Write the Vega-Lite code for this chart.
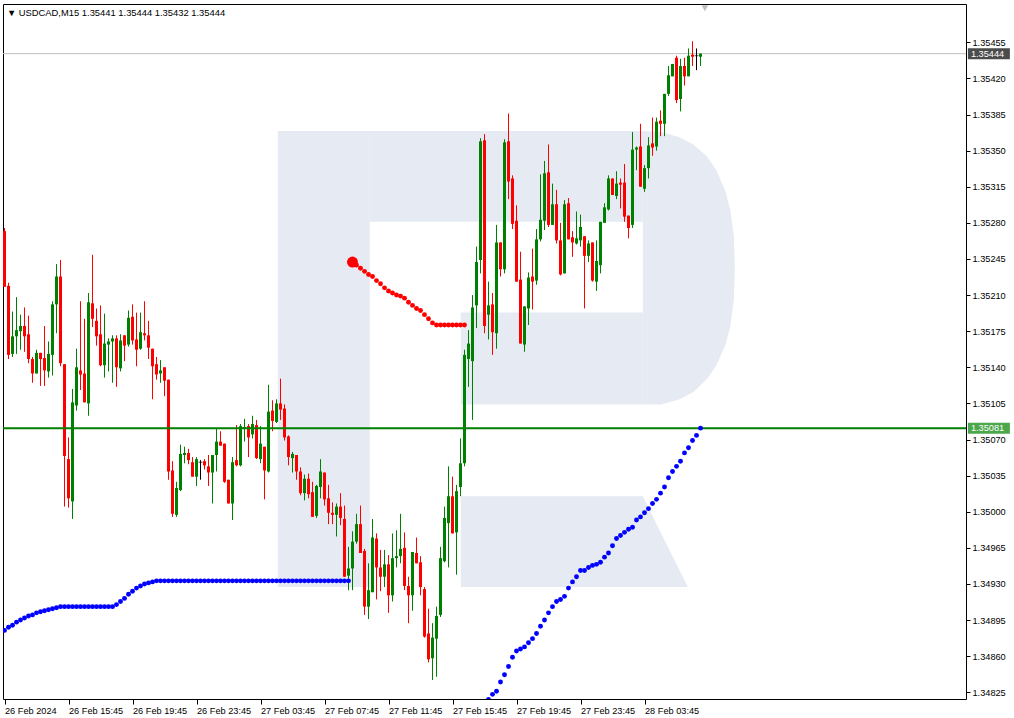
{
"$schema":"https://vega.github.io/schema/vega-lite/v6.json",
"autosize":{"type":"none"},
"width":963,"height":695,
"padding":{"left":3,"top":4,"right":48,"bottom":19},
"background":"#FFFFFF",
"config":{"view":{"stroke":"#000000","strokeWidth":1},"axis":{"labelFont":"Liberation Sans","labelFontSize":9.2,"labelColor":"#000000","tickColor":"#000000","domain":false,"grid":false}},
"datasets":{
"header":[{"text":"▼  USDCAD,M15  1.35441 1.35444 1.35432 1.35444"}],
"marker":[{"name":"shift"}],
"wm":[
{"part":"stem","i":68.325,"top":1.35369,"bot":1.34927},{"part":"stem","i":91.325,"top":1.35369,"bot":1.34927},
{"part":"topbar","i":91.325,"top":1.35369,"bot":1.35281},{"part":"topbar","i":159.575,"top":1.35369,"bot":1.35281},
{"part":"botbar","i":114.075,"top":1.35193,"bot":1.35104},{"part":"botbar","i":159.575,"top":1.35193,"bot":1.35104},
{"part":"bowl","i":159.575,"top":1.35369,"bot":1.35104},{"part":"bowl","i":164.175,"top":1.35368,"bot":1.35104},{"part":"bowl","i":168.775,"top":1.35363,"bot":1.35109},{"part":"bowl","i":172.225,"top":1.35356,"bot":1.35116},{"part":"bowl","i":175.675,"top":1.35344,"bot":1.35129},{"part":"bowl","i":177.975,"top":1.35331,"bot":1.35142},{"part":"bowl","i":180.275,"top":1.35310,"bot":1.35162},{"part":"bowl","i":181.425,"top":1.35293,"bot":1.35179},{"part":"bowl","i":182.35,"top":1.35267,"bot":1.35206},{"part":"bowl","i":182.575,"top":1.35236,"bot":1.35236},
{"part":"leg","i":114.075,"top":1.35015,"bot":1.34927},{"part":"leg","i":159.575,"top":1.35015,"bot":1.34927},{"part":"leg","i":170.825,"top":1.34927,"bot":1.34927}
],
"levels":[{"name":"bid","price":1.35444,"label":"1.35444"},{"name":"line","price":1.35081,"label":"1.35081"}],
"candles":[
{"i":0,"o":1.35272,"h":1.35275,"l":1.35218,"c":1.35218},
{"i":1,"o":1.35219,"h":1.35222,"l":1.35148,"c":1.35152},
{"i":2,"o":1.35153,"h":1.35194,"l":1.35150,"c":1.35170},
{"i":3,"o":1.35170,"h":1.35208,"l":1.35153,"c":1.35176},
{"i":4,"o":1.35175,"h":1.35191,"l":1.35157,"c":1.35180},
{"i":5,"o":1.35180,"h":1.35198,"l":1.35155,"c":1.35170},
{"i":6,"o":1.35172,"h":1.35190,"l":1.35144,"c":1.35148},
{"i":7,"o":1.35148,"h":1.35150,"l":1.35125,"c":1.35134},
{"i":8,"o":1.35134,"h":1.35157,"l":1.35134,"c":1.35154},
{"i":9,"o":1.35154,"h":1.35154,"l":1.35122,"c":1.35148},
{"i":10,"o":1.35149,"h":1.35180,"l":1.35122,"c":1.35137},
{"i":11,"o":1.35136,"h":1.35165,"l":1.35130,"c":1.35153},
{"i":12,"o":1.35152,"h":1.35204,"l":1.35132,"c":1.35201},
{"i":13,"o":1.35201,"h":1.35240,"l":1.35173,"c":1.35228},
{"i":14,"o":1.35228,"h":1.35244,"l":1.35141,"c":1.35144},
{"i":15,"o":1.35143,"h":1.35143,"l":1.35005,"c":1.35054},
{"i":16,"o":1.35051,"h":1.35072,"l":1.35004,"c":1.35013},
{"i":17,"o":1.35010,"h":1.35119,"l":1.34993,"c":1.35106},
{"i":18,"o":1.35103,"h":1.35158,"l":1.35098,"c":1.35140},
{"i":19,"o":1.35137,"h":1.35204,"l":1.35118,"c":1.35133},
{"i":20,"o":1.35134,"h":1.35187,"l":1.35106,"c":1.35106},
{"i":21,"o":1.35105,"h":1.35212,"l":1.35093,"c":1.35203},
{"i":22,"o":1.35202,"h":1.35249,"l":1.35179,"c":1.35187},
{"i":23,"o":1.35185,"h":1.35197,"l":1.35161,"c":1.35170},
{"i":24,"o":1.35172,"h":1.35200,"l":1.35141,"c":1.35142},
{"i":25,"o":1.35142,"h":1.35192,"l":1.35130,"c":1.35163},
{"i":26,"o":1.35162,"h":1.35168,"l":1.35136,"c":1.35165},
{"i":27,"o":1.35165,"h":1.35171,"l":1.35125,"c":1.35168},
{"i":28,"o":1.35168,"h":1.35171,"l":1.35121,"c":1.35140},
{"i":29,"o":1.35139,"h":1.35172,"l":1.35136,"c":1.35166},
{"i":30,"o":1.35171,"h":1.35171,"l":1.35146,"c":1.35161},
{"i":31,"o":1.35162,"h":1.35195,"l":1.35160,"c":1.35188},
{"i":32,"o":1.35189,"h":1.35201,"l":1.35162,"c":1.35166},
{"i":33,"o":1.35167,"h":1.35193,"l":1.35141,"c":1.35157},
{"i":34,"o":1.35158,"h":1.35193,"l":1.35157,"c":1.35174},
{"i":35,"o":1.35173,"h":1.35204,"l":1.35166,"c":1.35171},
{"i":36,"o":1.35171,"h":1.35185,"l":1.35148,"c":1.35159},
{"i":37,"o":1.35158,"h":1.35158,"l":1.35109,"c":1.35141},
{"i":38,"o":1.35143,"h":1.35150,"l":1.35128,"c":1.35133},
{"i":39,"o":1.35134,"h":1.35147,"l":1.35125,"c":1.35137},
{"i":40,"o":1.35140,"h":1.35140,"l":1.35112,"c":1.35127},
{"i":41,"o":1.35128,"h":1.35128,"l":1.35031,"c":1.35039},
{"i":42,"o":1.35040,"h":1.35049,"l":1.34995,"c":1.34998},
{"i":43,"o":1.34997,"h":1.35029,"l":1.34995,"c":1.35023},
{"i":44,"o":1.35021,"h":1.35065,"l":1.35020,"c":1.35056},
{"i":45,"o":1.35055,"h":1.35063,"l":1.35047,"c":1.35057},
{"i":46,"o":1.35057,"h":1.35061,"l":1.35046,"c":1.35050},
{"i":47,"o":1.35048,"h":1.35053,"l":1.35034,"c":1.35034},
{"i":48,"o":1.35034,"h":1.35053,"l":1.35025,"c":1.35051},
{"i":49,"o":1.35048,"h":1.35050,"l":1.35031,"c":1.35048},
{"i":50,"o":1.35049,"h":1.35051,"l":1.35041,"c":1.35045},
{"i":51,"o":1.35044,"h":1.35055,"l":1.35025,"c":1.35038},
{"i":52,"o":1.35038,"h":1.35055,"l":1.35008,"c":1.35055},
{"i":53,"o":1.35055,"h":1.35081,"l":1.35039,"c":1.35068},
{"i":54,"o":1.35068,"h":1.35078,"l":1.35064,"c":1.35064},
{"i":55,"o":1.35066,"h":1.35066,"l":1.35028,"c":1.35029},
{"i":56,"o":1.35031,"h":1.35031,"l":1.35008,"c":1.35008},
{"i":57,"o":1.35008,"h":1.35053,"l":1.34992,"c":1.35048},
{"i":58,"o":1.35050,"h":1.35084,"l":1.35044,"c":1.35045},
{"i":59,"o":1.35045,"h":1.35085,"l":1.35044,"c":1.35083},
{"i":60,"o":1.35081,"h":1.35090,"l":1.35068,"c":1.35082},
{"i":61,"o":1.35083,"h":1.35085,"l":1.35053,"c":1.35072},
{"i":62,"o":1.35075,"h":1.35093,"l":1.35071,"c":1.35085},
{"i":63,"o":1.35084,"h":1.35089,"l":1.35051,"c":1.35052},
{"i":64,"o":1.35051,"h":1.35083,"l":1.35047,"c":1.35066},
{"i":65,"o":1.35063,"h":1.35063,"l":1.35012,"c":1.35040},
{"i":66,"o":1.35039,"h":1.35123,"l":1.35038,"c":1.35097},
{"i":67,"o":1.35098,"h":1.35108,"l":1.35078,"c":1.35088},
{"i":68,"o":1.35087,"h":1.35109,"l":1.35086,"c":1.35105},
{"i":69,"o":1.35105,"h":1.35129,"l":1.35089,"c":1.35099},
{"i":70,"o":1.35100,"h":1.35104,"l":1.35069,"c":1.35072},
{"i":71,"o":1.35073,"h":1.35074,"l":1.35045,"c":1.35053},
{"i":72,"o":1.35052,"h":1.35058,"l":1.35038,"c":1.35056},
{"i":73,"o":1.35055,"h":1.35055,"l":1.35031,"c":1.35039},
{"i":74,"o":1.35039,"h":1.35043,"l":1.35016,"c":1.35018},
{"i":75,"o":1.35018,"h":1.35036,"l":1.35011,"c":1.35032},
{"i":76,"o":1.35032,"h":1.35037,"l":1.35013,"c":1.35017},
{"i":77,"o":1.35019,"h":1.35029,"l":1.34995,"c":1.34995},
{"i":78,"o":1.34996,"h":1.35026,"l":1.34994,"c":1.35025},
{"i":79,"o":1.35024,"h":1.35051,"l":1.35013,"c":1.35039},
{"i":80,"o":1.35038,"h":1.35038,"l":1.35006,"c":1.35012},
{"i":81,"o":1.35013,"h":1.35026,"l":1.34988,"c":1.34999},
{"i":82,"o":1.34999,"h":1.35009,"l":1.34988,"c":1.34997},
{"i":83,"o":1.34997,"h":1.35008,"l":1.34976,"c":1.35005},
{"i":84,"o":1.35005,"h":1.35018,"l":1.34987,"c":1.34994},
{"i":85,"o":1.34993,"h":1.35006,"l":1.34937,"c":1.34937},
{"i":86,"o":1.34938,"h":1.34966,"l":1.34924,"c":1.34945},
{"i":87,"o":1.34945,"h":1.34981,"l":1.34924,"c":1.34971},
{"i":88,"o":1.34971,"h":1.34998,"l":1.34969,"c":1.34988},
{"i":89,"o":1.34988,"h":1.35006,"l":1.34960,"c":1.34960},
{"i":90,"o":1.34962,"h":1.34964,"l":1.34900,"c":1.34908},
{"i":91,"o":1.34908,"h":1.34950,"l":1.34896,"c":1.34924},
{"i":92,"o":1.34922,"h":1.34993,"l":1.34922,"c":1.34975},
{"i":93,"o":1.34974,"h":1.34979,"l":1.34915,"c":1.34946},
{"i":94,"o":1.34946,"h":1.34963,"l":1.34923,"c":1.34937},
{"i":95,"o":1.34937,"h":1.34963,"l":1.34927,"c":1.34949},
{"i":96,"o":1.34949,"h":1.34958,"l":1.34902,"c":1.34919},
{"i":97,"o":1.34919,"h":1.34979,"l":1.34913,"c":1.34955},
{"i":98,"o":1.34955,"h":1.34982,"l":1.34946,"c":1.34957},
{"i":99,"o":1.34957,"h":1.34998,"l":1.34950,"c":1.34964},
{"i":100,"o":1.34965,"h":1.34980,"l":1.34924,"c":1.34928},
{"i":101,"o":1.34928,"h":1.34937,"l":1.34892,"c":1.34919},
{"i":102,"o":1.34919,"h":1.34961,"l":1.34904,"c":1.34961},
{"i":103,"o":1.34960,"h":1.34975,"l":1.34950,"c":1.34950},
{"i":104,"o":1.34951,"h":1.34957,"l":1.34919,"c":1.34927},
{"i":105,"o":1.34925,"h":1.34927,"l":1.34878,"c":1.34879},
{"i":106,"o":1.34882,"h":1.34906,"l":1.34854,"c":1.34857},
{"i":107,"o":1.34858,"h":1.34892,"l":1.34837,"c":1.34878},
{"i":108,"o":1.34877,"h":1.34908,"l":1.34840,"c":1.34899},
{"i":109,"o":1.34900,"h":1.34966,"l":1.34898,"c":1.34955},
{"i":110,"o":1.34952,"h":1.35005,"l":1.34951,"c":1.34994},
{"i":111,"o":1.34989,"h":1.35044,"l":1.34946,"c":1.35015},
{"i":112,"o":1.35015,"h":1.35034,"l":1.34979,"c":1.34979},
{"i":113,"o":1.34980,"h":1.35026,"l":1.34939,"c":1.35020},
{"i":114,"o":1.35024,"h":1.35071,"l":1.35015,"c":1.35047},
{"i":115,"o":1.35047,"h":1.35157,"l":1.35044,"c":1.35152},
{"i":116,"o":1.35148,"h":1.35176,"l":1.35121,"c":1.35163},
{"i":117,"o":1.35146,"h":1.35210,"l":1.35089,"c":1.35198},
{"i":118,"o":1.35200,"h":1.35257,"l":1.35178,"c":1.35242},
{"i":119,"o":1.35244,"h":1.35362,"l":1.35231,"c":1.35359},
{"i":120,"o":1.35360,"h":1.35366,"l":1.35173,"c":1.35180},
{"i":121,"o":1.35191,"h":1.35223,"l":1.35167,"c":1.35200},
{"i":122,"o":1.35201,"h":1.35212,"l":1.35152,"c":1.35174},
{"i":123,"o":1.35173,"h":1.35278,"l":1.35158,"c":1.35261},
{"i":124,"o":1.35261,"h":1.35261,"l":1.35228,"c":1.35235},
{"i":125,"o":1.35235,"h":1.35361,"l":1.35231,"c":1.35358},
{"i":126,"o":1.35359,"h":1.35386,"l":1.35303,"c":1.35320},
{"i":127,"o":1.35323,"h":1.35326,"l":1.35274,"c":1.35279},
{"i":128,"o":1.35282,"h":1.35297,"l":1.35223,"c":1.35223},
{"i":129,"o":1.35225,"h":1.35252,"l":1.35163,"c":1.35163},
{"i":130,"o":1.35162,"h":1.35199,"l":1.35155,"c":1.35199},
{"i":131,"o":1.35197,"h":1.35232,"l":1.35181,"c":1.35227},
{"i":132,"o":1.35228,"h":1.35255,"l":1.35196,"c":1.35223},
{"i":133,"o":1.35224,"h":1.35274,"l":1.35220,"c":1.35264},
{"i":134,"o":1.35264,"h":1.35327,"l":1.35262,"c":1.35283},
{"i":135,"o":1.35282,"h":1.35340,"l":1.35273,"c":1.35328},
{"i":136,"o":1.35329,"h":1.35356,"l":1.35276,"c":1.35278},
{"i":137,"o":1.35278,"h":1.35318,"l":1.35278,"c":1.35298},
{"i":138,"o":1.35298,"h":1.35312,"l":1.35260,"c":1.35263},
{"i":139,"o":1.35263,"h":1.35280,"l":1.35229,"c":1.35230},
{"i":140,"o":1.35231,"h":1.35302,"l":1.35231,"c":1.35298},
{"i":141,"o":1.35299,"h":1.35304,"l":1.35264,"c":1.35264},
{"i":142,"o":1.35266,"h":1.35272,"l":1.35247,"c":1.35261},
{"i":143,"o":1.35260,"h":1.35291,"l":1.35259,"c":1.35265},
{"i":144,"o":1.35263,"h":1.35288,"l":1.35257,"c":1.35276},
{"i":145,"o":1.35267,"h":1.35267,"l":1.35197,"c":1.35248},
{"i":146,"o":1.35248,"h":1.35263,"l":1.35242,"c":1.35260},
{"i":147,"o":1.35261,"h":1.35261,"l":1.35223,"c":1.35224},
{"i":148,"o":1.35223,"h":1.35263,"l":1.35214,"c":1.35243},
{"i":149,"o":1.35239,"h":1.35281,"l":1.35231,"c":1.35281},
{"i":150,"o":1.35280,"h":1.35299,"l":1.35280,"c":1.35295},
{"i":151,"o":1.35293,"h":1.35326,"l":1.35292,"c":1.35323},
{"i":152,"o":1.35323,"h":1.35323,"l":1.35307,"c":1.35307},
{"i":153,"o":1.35306,"h":1.35330,"l":1.35303,"c":1.35318},
{"i":154,"o":1.35319,"h":1.35323,"l":1.35294,"c":1.35317},
{"i":155,"o":1.35319,"h":1.35337,"l":1.35281,"c":1.35286},
{"i":156,"o":1.35287,"h":1.35287,"l":1.35265,"c":1.35275},
{"i":157,"o":1.35278,"h":1.35368,"l":1.35275,"c":1.35351},
{"i":158,"o":1.35351,"h":1.35354,"l":1.35331,"c":1.35353},
{"i":159,"o":1.35354,"h":1.35376,"l":1.35315,"c":1.35315},
{"i":160,"o":1.35313,"h":1.35336,"l":1.35310,"c":1.35333},
{"i":161,"o":1.35333,"h":1.35363,"l":1.35323,"c":1.35355},
{"i":162,"o":1.35357,"h":1.35382,"l":1.35345,"c":1.35353},
{"i":163,"o":1.35354,"h":1.35382,"l":1.35350,"c":1.35378},
{"i":164,"o":1.35379,"h":1.35389,"l":1.35364,"c":1.35376},
{"i":165,"o":1.35376,"h":1.35405,"l":1.35364,"c":1.35405},
{"i":166,"o":1.35405,"h":1.35432,"l":1.35403,"c":1.35423},
{"i":167,"o":1.35422,"h":1.35434,"l":1.35422,"c":1.35434},
{"i":168,"o":1.35440,"h":1.35442,"l":1.35396,"c":1.35399},
{"i":169,"o":1.35400,"h":1.35439,"l":1.35388,"c":1.35432},
{"i":170,"o":1.35432,"h":1.35440,"l":1.35413,"c":1.35422},
{"i":171,"o":1.35422,"h":1.35449,"l":1.35422,"c":1.35442},
{"i":172,"o":1.35443,"h":1.35456,"l":1.35432,"c":1.35441},
{"i":173,"o":1.35442,"h":1.35449,"l":1.35428,"c":1.35442},
{"i":174,"o":1.35441,"h":1.35444,"l":1.35432,"c":1.35444}
],
"dots":[
{"i":0,"v":1.34885,"s":"up"},{"i":1,"v":1.34888,"s":"up"},{"i":2,"v":1.34890,"s":"up"},{"i":3,"v":1.34893,"s":"up"},{"i":4,"v":1.34895,"s":"up"},{"i":5,"v":1.34897,"s":"up"},{"i":6,"v":1.34899,"s":"up"},{"i":7,"v":1.34900,"s":"up"},{"i":8,"v":1.34902,"s":"up"},{"i":9,"v":1.34903,"s":"up"},{"i":10,"v":1.34904,"s":"up"},{"i":11,"v":1.34905,"s":"up"},{"i":12,"v":1.34906,"s":"up"},{"i":13,"v":1.34907,"s":"up"},
{"i":14,"v":1.34908,"s":"up"},{"i":15,"v":1.34908,"s":"up"},{"i":16,"v":1.34908,"s":"up"},{"i":17,"v":1.34908,"s":"up"},{"i":18,"v":1.34908,"s":"up"},{"i":19,"v":1.34908,"s":"up"},{"i":20,"v":1.34908,"s":"up"},{"i":21,"v":1.34908,"s":"up"},{"i":22,"v":1.34908,"s":"up"},{"i":23,"v":1.34908,"s":"up"},{"i":24,"v":1.34908,"s":"up"},{"i":25,"v":1.34908,"s":"up"},{"i":26,"v":1.34908,"s":"up"},{"i":27,"v":1.34908,"s":"up"},
{"i":28,"v":1.34910,"s":"up"},{"i":29,"v":1.34913,"s":"up"},{"i":30,"v":1.34916,"s":"up"},{"i":31,"v":1.34920,"s":"up"},{"i":32,"v":1.34923,"s":"up"},{"i":33,"v":1.34926,"s":"up"},{"i":34,"v":1.34928,"s":"up"},{"i":35,"v":1.34930,"s":"up"},{"i":36,"v":1.34931,"s":"up"},{"i":37,"v":1.34932,"s":"up"},
{"i":38,"v":1.34933,"s":"up"},{"i":39,"v":1.34933,"s":"up"},{"i":40,"v":1.34933,"s":"up"},{"i":41,"v":1.34933,"s":"up"},{"i":42,"v":1.34933,"s":"up"},{"i":43,"v":1.34933,"s":"up"},{"i":44,"v":1.34933,"s":"up"},{"i":45,"v":1.34933,"s":"up"},{"i":46,"v":1.34933,"s":"up"},{"i":47,"v":1.34933,"s":"up"},{"i":48,"v":1.34933,"s":"up"},{"i":49,"v":1.34933,"s":"up"},{"i":50,"v":1.34933,"s":"up"},{"i":51,"v":1.34933,"s":"up"},{"i":52,"v":1.34933,"s":"up"},{"i":53,"v":1.34933,"s":"up"},{"i":54,"v":1.34933,"s":"up"},{"i":55,"v":1.34933,"s":"up"},{"i":56,"v":1.34933,"s":"up"},{"i":57,"v":1.34933,"s":"up"},{"i":58,"v":1.34933,"s":"up"},{"i":59,"v":1.34933,"s":"up"},{"i":60,"v":1.34933,"s":"up"},{"i":61,"v":1.34933,"s":"up"},{"i":62,"v":1.34933,"s":"up"},{"i":63,"v":1.34933,"s":"up"},{"i":64,"v":1.34933,"s":"up"},{"i":65,"v":1.34933,"s":"up"},{"i":66,"v":1.34933,"s":"up"},{"i":67,"v":1.34933,"s":"up"},{"i":68,"v":1.34933,"s":"up"},{"i":69,"v":1.34933,"s":"up"},{"i":70,"v":1.34933,"s":"up"},{"i":71,"v":1.34933,"s":"up"},{"i":72,"v":1.34933,"s":"up"},{"i":73,"v":1.34933,"s":"up"},{"i":74,"v":1.34933,"s":"up"},{"i":75,"v":1.34933,"s":"up"},{"i":76,"v":1.34933,"s":"up"},{"i":77,"v":1.34933,"s":"up"},{"i":78,"v":1.34933,"s":"up"},{"i":79,"v":1.34933,"s":"up"},{"i":80,"v":1.34933,"s":"up"},{"i":81,"v":1.34933,"s":"up"},{"i":82,"v":1.34933,"s":"up"},{"i":83,"v":1.34933,"s":"up"},{"i":84,"v":1.34933,"s":"up"},{"i":85,"v":1.34933,"s":"up"},{"i":86,"v":1.34933,"s":"up"},
{"i":87,"v":1.35242,"s":"down"},{"i":88,"v":1.35239,"s":"down"},{"i":89,"v":1.35236,"s":"down"},{"i":90,"v":1.35233,"s":"down"},{"i":91,"v":1.35230,"s":"down"},{"i":92,"v":1.35228,"s":"down"},{"i":93,"v":1.35224,"s":"down"},{"i":94,"v":1.35221,"s":"down"},{"i":95,"v":1.35217,"s":"down"},{"i":96,"v":1.35214,"s":"down"},{"i":97,"v":1.35212,"s":"down"},{"i":98,"v":1.35210,"s":"down"},{"i":99,"v":1.35209,"s":"down"},{"i":100,"v":1.35207,"s":"down"},{"i":101,"v":1.35203,"s":"down"},{"i":102,"v":1.35200,"s":"down"},{"i":103,"v":1.35197,"s":"down"},{"i":104,"v":1.35195,"s":"down"},{"i":105,"v":1.35191,"s":"down"},{"i":106,"v":1.35187,"s":"down"},{"i":107,"v":1.35183,"s":"down"},{"i":108,"v":1.35181,"s":"down"},{"i":109,"v":1.35181,"s":"down"},{"i":110,"v":1.35181,"s":"down"},{"i":111,"v":1.35181,"s":"down"},{"i":112,"v":1.35181,"s":"down"},{"i":113,"v":1.35181,"s":"down"},{"i":114,"v":1.35181,"s":"down"},{"i":115,"v":1.35181,"s":"down"},
{"i":121,"v":1.34818,"s":"up"},{"i":122,"v":1.34823,"s":"up"},{"i":123,"v":1.34826,"s":"up"},{"i":124,"v":1.34835,"s":"up"},{"i":125,"v":1.34842,"s":"up"},{"i":126,"v":1.34850,"s":"up"},{"i":127,"v":1.34859,"s":"up"},{"i":128,"v":1.34865,"s":"up"},{"i":129,"v":1.34867,"s":"up"},{"i":130,"v":1.34869,"s":"up"},{"i":131,"v":1.34873,"s":"up"},{"i":132,"v":1.34877,"s":"up"},{"i":133,"v":1.34882,"s":"up"},{"i":134,"v":1.34889,"s":"up"},{"i":135,"v":1.34895,"s":"up"},{"i":136,"v":1.34902,"s":"up"},{"i":137,"v":1.34908,"s":"up"},{"i":138,"v":1.34913,"s":"up"},{"i":139,"v":1.34915,"s":"up"},{"i":140,"v":1.34918,"s":"up"},{"i":141,"v":1.34926,"s":"up"},{"i":142,"v":1.34932,"s":"up"},{"i":143,"v":1.34937,"s":"up"},{"i":144,"v":1.34943,"s":"up"},{"i":145,"v":1.34943,"s":"up"},{"i":146,"v":1.34946,"s":"up"},{"i":147,"v":1.34948,"s":"up"},{"i":148,"v":1.34949,"s":"up"},{"i":149,"v":1.34951,"s":"up"},{"i":150,"v":1.34956,"s":"up"},{"i":151,"v":1.34960,"s":"up"},{"i":152,"v":1.34967,"s":"up"},{"i":153,"v":1.34974,"s":"up"},{"i":154,"v":1.34977,"s":"up"},{"i":155,"v":1.34980,"s":"up"},{"i":156,"v":1.34983,"s":"up"},{"i":157,"v":1.34985,"s":"up"},{"i":158,"v":1.34992,"s":"up"},{"i":159,"v":1.34995,"s":"up"},{"i":160,"v":1.34999,"s":"up"},{"i":161,"v":1.35003,"s":"up"},{"i":162,"v":1.35008,"s":"up"},{"i":163,"v":1.35012,"s":"up"},{"i":164,"v":1.35018,"s":"up"},{"i":165,"v":1.35024,"s":"up"},{"i":166,"v":1.35033,"s":"up"},{"i":167,"v":1.35039,"s":"up"},{"i":168,"v":1.35044,"s":"up"},{"i":169,"v":1.35049,"s":"up"},{"i":170,"v":1.35057,"s":"up"},{"i":171,"v":1.35062,"s":"up"},{"i":172,"v":1.35069,"s":"up"},{"i":173,"v":1.35074,"s":"up"},{"i":174,"v":1.35081,"s":"up"}
]
},
"layer":[
{"data":{"name":"wm"},"mark":{"type":"area","color":"#E5EAF3","interpolate":"linear","orient":"vertical"},
 "encoding":{
  "x":{"field":"i","type":"quantitative","scale":{"domain":[-0.375,240.375],"nice":false,"zero":false,"padding":0},
   "axis":{"values":[0,16,32,48,64,80,96,112,128,144,160],"labelExpr":"['26 Feb 2024','26 Feb 15:45','26 Feb 19:45','26 Feb 23:45','27 Feb 03:45','27 Feb 07:45','27 Feb 11:45','27 Feb 15:45','27 Feb 19:45','27 Feb 23:45','28 Feb 03:45'][round(datum.value/16)]","labelAlign":"left","labelDx":1,"tickSize":5,"labelPadding":2,"labelBaseline":"top","labelFlush":false,"labelOverlap":false,"labelBound":false,"title":null,"grid":false,"domain":false}},
  "y":{"field":"top","type":"quantitative","scale":{"domain":[1.348185,1.354921],"nice":false,"zero":false,"padding":0},
   "axis":{"orient":"right","values":[1.34825,1.34860,1.34895,1.34930,1.34965,1.35000,1.35035,1.35070,1.35105,1.35140,1.35175,1.35210,1.35245,1.35280,1.35315,1.35350,1.35385,1.35420,1.35455],"format":".5f","tickSize":4,"labelPadding":2,"title":null,"labelOverlap":false,"labelFlush":false,"labelBound":false,"grid":false,"domain":false}},
  "y2":{"field":"bot"},
  "detail":{"field":"part","type":"nominal"}
 }},
{"data":{"name":"levels"},"transform":[{"filter":"datum.name == 'bid'"}],"mark":{"type":"rule","color":"#C0C0C0","strokeWidth":1},
 "encoding":{"y":{"field":"price","type":"quantitative","scale":{"domain":[1.348185,1.354921],"nice":false,"zero":false,"padding":0},
   "axis":{"orient":"right","values":[1.34825,1.34860,1.34895,1.34930,1.34965,1.35000,1.35035,1.35070,1.35105,1.35140,1.35175,1.35210,1.35245,1.35280,1.35315,1.35350,1.35385,1.35420,1.35455],"format":".5f","tickSize":4,"labelPadding":2,"title":null,"labelOverlap":false,"labelFlush":false,"labelBound":false,"grid":false,"domain":false}}}},
{"data":{"name":"candles"},"mark":{"type":"rule","strokeWidth":1},
 "encoding":{
  "x":{"field":"i","type":"quantitative","scale":{"domain":[-0.375,240.375],"nice":false,"zero":false,"padding":0},
   "axis":{"values":[0,16,32,48,64,80,96,112,128,144,160],"labelExpr":"['26 Feb 2024','26 Feb 15:45','26 Feb 19:45','26 Feb 23:45','27 Feb 03:45','27 Feb 07:45','27 Feb 11:45','27 Feb 15:45','27 Feb 19:45','27 Feb 23:45','28 Feb 03:45'][round(datum.value/16)]","labelAlign":"left","labelDx":1,"tickSize":5,"labelPadding":2,"labelBaseline":"top","labelFlush":false,"labelOverlap":false,"labelBound":false,"title":null,"grid":false,"domain":false}},
  "y":{"field":"l","type":"quantitative","scale":{"domain":[1.348185,1.354921],"nice":false,"zero":false,"padding":0},
   "axis":{"orient":"right","values":[1.34825,1.34860,1.34895,1.34930,1.34965,1.35000,1.35035,1.35070,1.35105,1.35140,1.35175,1.35210,1.35245,1.35280,1.35315,1.35350,1.35385,1.35420,1.35455],"format":".5f","tickSize":4,"labelPadding":2,"title":null,"labelOverlap":false,"labelFlush":false,"labelBound":false,"grid":false,"domain":false}},
  "y2":{"field":"h"},
  "color":{"condition":[{"test":"datum.c > datum.o","value":"#008000"},{"test":"datum.c < datum.o","value":"#FF0000"}],"value":"#000000"}
 }},
{"data":{"name":"candles"},"mark":{"type":"bar","width":3},
 "encoding":{
  "x":{"field":"i","type":"quantitative","scale":{"domain":[-0.375,240.375],"nice":false,"zero":false,"padding":0},
   "axis":{"values":[0,16,32,48,64,80,96,112,128,144,160],"labelExpr":"['26 Feb 2024','26 Feb 15:45','26 Feb 19:45','26 Feb 23:45','27 Feb 03:45','27 Feb 07:45','27 Feb 11:45','27 Feb 15:45','27 Feb 19:45','27 Feb 23:45','28 Feb 03:45'][round(datum.value/16)]","labelAlign":"left","labelDx":1,"tickSize":5,"labelPadding":2,"labelBaseline":"top","labelFlush":false,"labelOverlap":false,"labelBound":false,"title":null,"grid":false,"domain":false}},
  "y":{"field":"o","type":"quantitative","scale":{"domain":[1.348185,1.354921],"nice":false,"zero":false,"padding":0},
   "axis":{"orient":"right","values":[1.34825,1.34860,1.34895,1.34930,1.34965,1.35000,1.35035,1.35070,1.35105,1.35140,1.35175,1.35210,1.35245,1.35280,1.35315,1.35350,1.35385,1.35420,1.35455],"format":".5f","tickSize":4,"labelPadding":2,"title":null,"labelOverlap":false,"labelFlush":false,"labelBound":false,"grid":false,"domain":false}},
  "y2":{"field":"c"},
  "color":{"condition":[{"test":"datum.c > datum.o","value":"#008000"},{"test":"datum.c < datum.o","value":"#FF0000"}],"value":"#000000"}
 }},
{"data":{"name":"candles"},"transform":[{"filter":"datum.c == datum.o"}],"mark":{"type":"tick","orient":"horizontal","size":4,"thickness":1,"color":"#000000"},
 "encoding":{
  "x":{"field":"i","type":"quantitative","scale":{"domain":[-0.375,240.375],"nice":false,"zero":false,"padding":0},
   "axis":{"values":[0,16,32,48,64,80,96,112,128,144,160],"labelExpr":"['26 Feb 2024','26 Feb 15:45','26 Feb 19:45','26 Feb 23:45','27 Feb 03:45','27 Feb 07:45','27 Feb 11:45','27 Feb 15:45','27 Feb 19:45','27 Feb 23:45','28 Feb 03:45'][round(datum.value/16)]","labelAlign":"left","labelDx":1,"tickSize":5,"labelPadding":2,"labelBaseline":"top","labelFlush":false,"labelOverlap":false,"labelBound":false,"title":null,"grid":false,"domain":false}},
  "y":{"field":"o","type":"quantitative","scale":{"domain":[1.348185,1.354921],"nice":false,"zero":false,"padding":0},
   "axis":{"orient":"right","values":[1.34825,1.34860,1.34895,1.34930,1.34965,1.35000,1.35035,1.35070,1.35105,1.35140,1.35175,1.35210,1.35245,1.35280,1.35315,1.35350,1.35385,1.35420,1.35455],"format":".5f","tickSize":4,"labelPadding":2,"title":null,"labelOverlap":false,"labelFlush":false,"labelBound":false,"grid":false,"domain":false}}
 }},
{"data":{"name":"levels"},"transform":[{"filter":"datum.name == 'line'"}],"mark":{"type":"rule","color":"#008000","strokeWidth":2},
 "encoding":{"y":{"field":"price","type":"quantitative","scale":{"domain":[1.348185,1.354921],"nice":false,"zero":false,"padding":0},
   "axis":{"orient":"right","values":[1.34825,1.34860,1.34895,1.34930,1.34965,1.35000,1.35035,1.35070,1.35105,1.35140,1.35175,1.35210,1.35245,1.35280,1.35315,1.35350,1.35385,1.35420,1.35455],"format":".5f","tickSize":4,"labelPadding":2,"title":null,"labelOverlap":false,"labelFlush":false,"labelBound":false,"grid":false,"domain":false}}}},
{"data":{"name":"dots"},"mark":{"type":"circle","size":24,"opacity":1,"clip":true},
 "encoding":{
  "x":{"field":"i","type":"quantitative","scale":{"domain":[-0.375,240.375],"nice":false,"zero":false,"padding":0},
   "axis":{"values":[0,16,32,48,64,80,96,112,128,144,160],"labelExpr":"['26 Feb 2024','26 Feb 15:45','26 Feb 19:45','26 Feb 23:45','27 Feb 03:45','27 Feb 07:45','27 Feb 11:45','27 Feb 15:45','27 Feb 19:45','27 Feb 23:45','28 Feb 03:45'][round(datum.value/16)]","labelAlign":"left","labelDx":1,"tickSize":5,"labelPadding":2,"labelBaseline":"top","labelFlush":false,"labelOverlap":false,"labelBound":false,"title":null,"grid":false,"domain":false}},
  "y":{"field":"v","type":"quantitative","scale":{"domain":[1.348185,1.354921],"nice":false,"zero":false,"padding":0},
   "axis":{"orient":"right","values":[1.34825,1.34860,1.34895,1.34930,1.34965,1.35000,1.35035,1.35070,1.35105,1.35140,1.35175,1.35210,1.35245,1.35280,1.35315,1.35350,1.35385,1.35420,1.35455],"format":".5f","tickSize":4,"labelPadding":2,"title":null,"labelOverlap":false,"labelFlush":false,"labelBound":false,"grid":false,"domain":false}},
  "color":{"condition":{"test":"datum.s == 'up'","value":"#0000FF"},"value":"#FF0000"}
 }},
{"data":{"name":"dots"},"transform":[{"filter":"datum.i == 87"}],"mark":{"type":"circle","size":120,"opacity":1,"color":"#FF0000"},
 "encoding":{
  "x":{"field":"i","type":"quantitative","scale":{"domain":[-0.375,240.375],"nice":false,"zero":false,"padding":0},
   "axis":{"values":[0,16,32,48,64,80,96,112,128,144,160],"labelExpr":"['26 Feb 2024','26 Feb 15:45','26 Feb 19:45','26 Feb 23:45','27 Feb 03:45','27 Feb 07:45','27 Feb 11:45','27 Feb 15:45','27 Feb 19:45','27 Feb 23:45','28 Feb 03:45'][round(datum.value/16)]","labelAlign":"left","labelDx":1,"tickSize":5,"labelPadding":2,"labelBaseline":"top","labelFlush":false,"labelOverlap":false,"labelBound":false,"title":null,"grid":false,"domain":false}},
  "y":{"field":"v","type":"quantitative","scale":{"domain":[1.348185,1.354921],"nice":false,"zero":false,"padding":0},
   "axis":{"orient":"right","values":[1.34825,1.34860,1.34895,1.34930,1.34965,1.35000,1.35035,1.35070,1.35105,1.35140,1.35175,1.35210,1.35245,1.35280,1.35315,1.35350,1.35385,1.35420,1.35455],"format":".5f","tickSize":4,"labelPadding":2,"title":null,"labelOverlap":false,"labelFlush":false,"labelBound":false,"grid":false,"domain":false}}
 }},
{"data":{"name":"marker"},"mark":{"type":"point","shape":"triangle-down","filled":true,"size":45,"color":"#C0C0C0","opacity":1},
 "encoding":{
  "x":{"datum":175.1,"type":"quantitative","scale":{"domain":[-0.375,240.375],"nice":false,"zero":false,"padding":0},
   "axis":{"values":[0,16,32,48,64,80,96,112,128,144,160],"labelExpr":"['26 Feb 2024','26 Feb 15:45','26 Feb 19:45','26 Feb 23:45','27 Feb 03:45','27 Feb 07:45','27 Feb 11:45','27 Feb 15:45','27 Feb 19:45','27 Feb 23:45','28 Feb 03:45'][round(datum.value/16)]","labelAlign":"left","labelDx":1,"tickSize":5,"labelPadding":2,"labelBaseline":"top","labelFlush":false,"labelOverlap":false,"labelBound":false,"title":null,"grid":false,"domain":false}},
  "y":{"datum":1.35488,"type":"quantitative","scale":{"domain":[1.348185,1.354921],"nice":false,"zero":false,"padding":0},
   "axis":{"orient":"right","values":[1.34825,1.34860,1.34895,1.34930,1.34965,1.35000,1.35035,1.35070,1.35105,1.35140,1.35175,1.35210,1.35245,1.35280,1.35315,1.35350,1.35385,1.35420,1.35455],"format":".5f","tickSize":4,"labelPadding":2,"title":null,"labelOverlap":false,"labelFlush":false,"labelBound":false,"grid":false,"domain":false}}
 }},
{"data":{"name":"header"},"mark":{"type":"text","align":"left","baseline":"middle","font":"Liberation Sans","fontSize":9.4,"color":"#000000"},
 "encoding":{
  "x":{"datum":0.6,"type":"quantitative","scale":{"domain":[-0.375,240.375],"nice":false,"zero":false,"padding":0},
   "axis":{"values":[0,16,32,48,64,80,96,112,128,144,160],"labelExpr":"['26 Feb 2024','26 Feb 15:45','26 Feb 19:45','26 Feb 23:45','27 Feb 03:45','27 Feb 07:45','27 Feb 11:45','27 Feb 15:45','27 Feb 19:45','27 Feb 23:45','28 Feb 03:45'][round(datum.value/16)]","labelAlign":"left","labelDx":1,"tickSize":5,"labelPadding":2,"labelBaseline":"top","labelFlush":false,"labelOverlap":false,"labelBound":false,"title":null,"grid":false,"domain":false}},
  "y":{"datum":1.35483,"type":"quantitative","scale":{"domain":[1.348185,1.354921],"nice":false,"zero":false,"padding":0},
   "axis":{"orient":"right","values":[1.34825,1.34860,1.34895,1.34930,1.34965,1.35000,1.35035,1.35070,1.35105,1.35140,1.35175,1.35210,1.35245,1.35280,1.35315,1.35350,1.35385,1.35420,1.35455],"format":".5f","tickSize":4,"labelPadding":2,"title":null,"labelOverlap":false,"labelFlush":false,"labelBound":false,"grid":false,"domain":false}},
  "text":{"field":"text"}
 }},
{"data":{"name":"levels"},"mark":{"type":"tick","orient":"horizontal","size":42,"thickness":11},
 "encoding":{
  "x":{"datum":246.1,"type":"quantitative","scale":{"domain":[-0.375,240.375],"nice":false,"zero":false,"padding":0},
   "axis":{"values":[0,16,32,48,64,80,96,112,128,144,160],"labelExpr":"['26 Feb 2024','26 Feb 15:45','26 Feb 19:45','26 Feb 23:45','27 Feb 03:45','27 Feb 07:45','27 Feb 11:45','27 Feb 15:45','27 Feb 19:45','27 Feb 23:45','28 Feb 03:45'][round(datum.value/16)]","labelAlign":"left","labelDx":1,"tickSize":5,"labelPadding":2,"labelBaseline":"top","labelFlush":false,"labelOverlap":false,"labelBound":false,"title":null,"grid":false,"domain":false}},
  "y":{"field":"price","type":"quantitative","scale":{"domain":[1.348185,1.354921],"nice":false,"zero":false,"padding":0},
   "axis":{"orient":"right","values":[1.34825,1.34860,1.34895,1.34930,1.34965,1.35000,1.35035,1.35070,1.35105,1.35140,1.35175,1.35210,1.35245,1.35280,1.35315,1.35350,1.35385,1.35420,1.35455],"format":".5f","tickSize":4,"labelPadding":2,"title":null,"labelOverlap":false,"labelFlush":false,"labelBound":false,"grid":false,"domain":false}},
  "color":{"condition":{"test":"datum.name == 'bid'","value":"#000000"},"value":"#008000"}
 }},
{"data":{"name":"levels"},"mark":{"type":"text","align":"left","baseline":"middle","font":"Liberation Sans","fontSize":9.2,"color":"#FFFFFF"},
 "encoding":{
  "x":{"datum":241.6,"type":"quantitative","scale":{"domain":[-0.375,240.375],"nice":false,"zero":false,"padding":0},
   "axis":{"values":[0,16,32,48,64,80,96,112,128,144,160],"labelExpr":"['26 Feb 2024','26 Feb 15:45','26 Feb 19:45','26 Feb 23:45','27 Feb 03:45','27 Feb 07:45','27 Feb 11:45','27 Feb 15:45','27 Feb 19:45','27 Feb 23:45','28 Feb 03:45'][round(datum.value/16)]","labelAlign":"left","labelDx":1,"tickSize":5,"labelPadding":2,"labelBaseline":"top","labelFlush":false,"labelOverlap":false,"labelBound":false,"title":null,"grid":false,"domain":false}},
  "y":{"field":"price","type":"quantitative","scale":{"domain":[1.348185,1.354921],"nice":false,"zero":false,"padding":0},
   "axis":{"orient":"right","values":[1.34825,1.34860,1.34895,1.34930,1.34965,1.35000,1.35035,1.35070,1.35105,1.35140,1.35175,1.35210,1.35245,1.35280,1.35315,1.35350,1.35385,1.35420,1.35455],"format":".5f","tickSize":4,"labelPadding":2,"title":null,"labelOverlap":false,"labelFlush":false,"labelBound":false,"grid":false,"domain":false}},
  "text":{"field":"label"}
 }}
]
}
